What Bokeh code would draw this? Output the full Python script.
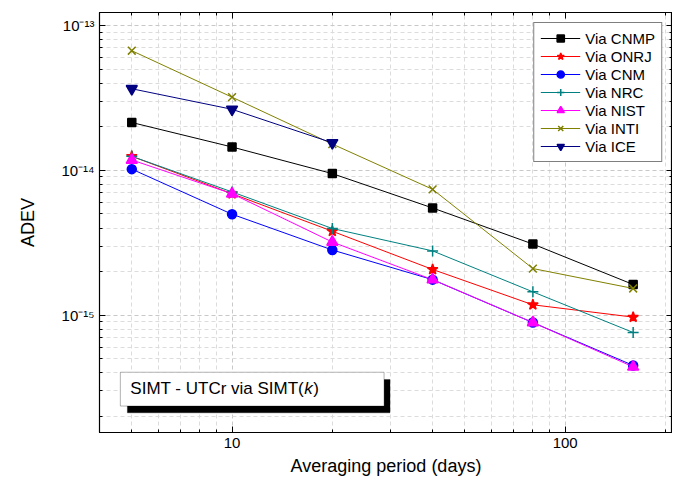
from bokeh.plotting import figure
from bokeh.models import LogAxis, BoxAnnotation, Label, Legend, LegendItem, CustomJSTickFormatter, FixedTicker
from bokeh.embed import file_html
from bokeh.resources import INLINE

periods = [5, 10, 20, 40, 80, 160]
cnmp = [2.14e-14, 1.45e-14, 9.5e-15, 5.5e-15, 3.1e-15, 1.63e-15]
onrj = [1.25e-14, 6.9e-15, 3.8e-15, 2.07e-15, 1.18e-15, 9.7e-16]
cnm = [1.02e-14, 4.98e-15, 2.82e-15, 1.76e-15, 8.9e-16, 4.5e-16]
nrc = [1.25e-14, 7.1e-15, 3.97e-15, 2.78e-15, 1.45e-15, 7.6e-16]
nist = [1.18e-14, 6.9e-15, 3.2e-15, 1.76e-15, 8.9e-16, 4.4e-16]
inti = [6.7e-14, 3.2e-14, 1.52e-14, 7.4e-15, 2.1e-15, 1.53e-15]
ice_periods = [5, 10, 20]
ice = [3.66e-14, 2.64e-14, 1.55e-14]

x_major = [10, 100]
x_minor = [4, 5, 6, 7, 8, 9, 20, 30, 40, 50, 60, 70, 80, 90, 200]
y_major = [1e-15, 1e-14, 1e-13]
y_minor = [k * 10.0 ** e for e in (-16, -15, -14) for k in range(2, 10)]

FONT = "Liberation Sans"

p = figure(width=672, height=478, x_axis_type="log", y_axis_type="log",
           x_range=(4.0, 210), y_range=(1.55e-16, 1.23e-13),
           output_backend="svg", toolbar_location=None,
           min_border_left=99, min_border_right=0, min_border_top=12, min_border_bottom=10)
p.outline_line_color = "black"
p.outline_line_width = 1.2

xt = FixedTicker(ticks=x_major, minor_ticks=x_minor)
yt = FixedTicker(ticks=y_major, minor_ticks=y_minor)

fmt = CustomJSTickFormatter(code="""
const sup = {'-':'\u207b','0':'\u2070','1':'\u00b9','2':'\u00b2','3':'\u00b3','4':'\u2074','5':'\u2075','6':'\u2076','7':'\u2077','8':'\u2078','9':'\u2079'};
const e = Math.round(Math.log10(tick));
return '10' + String(e).split('').map(c => sup[c]).join('');
""")
xfmt = CustomJSTickFormatter(code="return Math.round(tick).toString();")
blank = CustomJSTickFormatter(code="return '';")

for ax in (p.xaxis[0], p.yaxis[0]):
    ax.major_tick_in = 6
    ax.major_tick_out = 0
    ax.minor_tick_in = 3
    ax.minor_tick_out = 0
    ax.axis_line_color = "black"
    ax.major_label_text_color = "black"
    ax.axis_label_text_color = "black"
    ax.major_label_text_font = FONT
    ax.major_label_text_font_size = "15px"
    ax.axis_label_text_font = FONT
    ax.axis_label_text_font_size = "18px"
    ax.axis_label_text_font_style = "normal"
p.xaxis[0].ticker = xt
p.yaxis[0].ticker = yt
p.yaxis[0].formatter = fmt
p.xaxis[0].formatter = xfmt
p.xaxis[0].axis_label = "Averaging period (days)"
p.yaxis[0].axis_label = "ADEV"
p.yaxis[0].axis_label_standoff = 20

p.add_layout(LogAxis(ticker=FixedTicker(ticks=x_major, minor_ticks=x_minor), formatter=blank,
                     major_tick_in=6, major_tick_out=0, minor_tick_in=3, minor_tick_out=0), "above")
p.add_layout(LogAxis(ticker=FixedTicker(ticks=y_major, minor_ticks=y_minor), formatter=blank,
                     major_tick_in=6, major_tick_out=0, minor_tick_in=3, minor_tick_out=0), "right")

p.xgrid[0].ticker = xt
p.ygrid[0].ticker = yt
for g in (p.xgrid[0], p.ygrid[0]):
    g.grid_line_color = "#c8c8c8"
    g.grid_line_dash = "4 3"
    g.minor_grid_line_color = "#dcdcdc"
    g.minor_grid_line_dash = "4 3"

series = [
    ("Via CNMP", periods, cnmp, "black", "square", 8),
    ("Via ONRJ", periods, onrj, "red", "star", 11),
    ("Via CNM", periods, cnm, "blue", "circle", 9),
    ("Via NRC", periods, nrc, "#008080", "cross", 11),
    ("Via NIST", periods, nist, "magenta", "triangle", 11),
    ("Via INTI", periods, inti, "#808000", "x", 11),
    ("Via ICE", ice_periods, ice, "#000080", "inverted_triangle", 11),
]
items = []
for name, xs, ys, col, mk, sz in series:
    l = p.line(xs, ys, line_color=col, line_width=1)
    s = p.scatter(xs, ys, marker=mk, size=sz, fill_color=col, line_color=col, line_width=1.5)
    items.append(LegendItem(label=name, renderers=[l, s]))

leg = Legend(items=items, location="top_right", label_text_font=FONT,
             label_text_font_size="15px", label_text_color="black", border_line_color="black",
             border_line_width=1, spacing=0, padding=6, margin=10,
             label_height=18, glyph_height=18, glyph_width=40, background_fill_alpha=1)
p.add_layout(leg, "center")

# annotation box with shadow
p.add_layout(BoxAnnotation(left=4.85, right=29.8, bottom=2.12e-16, top=3.6e-16,
                           fill_color="black", fill_alpha=1, line_color="black"))
p.add_layout(BoxAnnotation(left=4.62, right=28.6, bottom=2.36e-16, top=4.04e-16,
                           fill_color="white", fill_alpha=1, line_color="black", line_width=1))
p.add_layout(Label(x=4.95, y=3.1e-16, text="SIMT - UTCr via SIMT(", text_font=FONT,
                   text_font_size="17px", text_baseline="middle", text_color="black"))
p.add_layout(Label(x=4.95, y=3.1e-16, x_offset=174, text="k", text_font=FONT,
                   text_font_style="italic", text_font_size="17px", text_baseline="middle",
                   text_color="black"))
p.add_layout(Label(x=4.95, y=3.1e-16, x_offset=183, text=")", text_font=FONT,
                   text_font_size="17px", text_baseline="middle", text_color="black"))

open("out.html", "w").write(file_html(p, INLINE))
